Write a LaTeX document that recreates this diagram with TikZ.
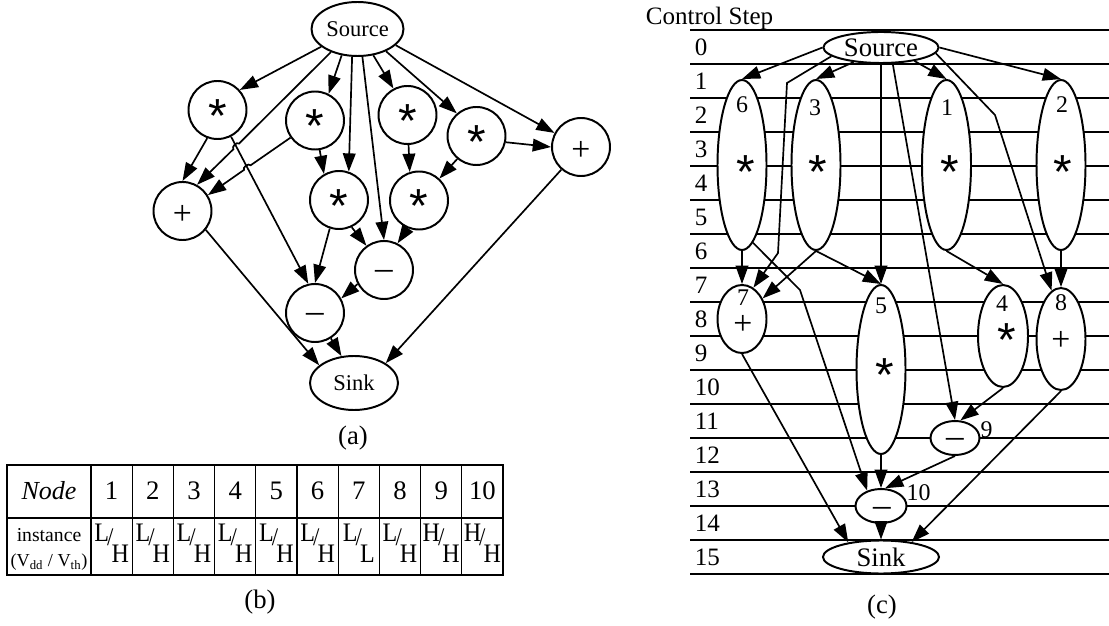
\documentclass[tikz,border=0pt]{standalone}
\usepackage{fontspec}
\setmainfont{Liberation Serif}
\newfontfamily\symfont{Liberation Sans}
\usetikzlibrary{arrows.meta,shapes.geometric}

% supply / threshold voltage pair, set as a slanted fraction
\newcommand{\vdvt}[2]{\scalebox{0.9}[1]{\raisebox{15pt}{#1}\kern-1.5pt\raisebox{12pt}{\fontsize{18}{18}\selectfont/}\kern-1.5pt#2}}

\begin{document}
\begin{tikzpicture}[
        x=0.25mm, y=-0.25mm,
        >={Triangle[length=13pt,width=9pt]},
        line width=1.2pt,
        every node/.style={font=\fontsize{19}{21}\selectfont},
        op/.style={circle, draw, line width=1.4pt, fill=white, minimum size=14.5mm, inner sep=0pt},
        term/.style={ellipse, draw, line width=1.4pt, fill=white, inner sep=0pt},
        slot/.style={ellipse, draw, line width=1.4pt, fill=white, inner sep=0pt, minimum width=12.25mm},
        mul/.style={font=\symfont\fontsize{34}{34}\selectfont, yshift=-7.1pt},
        add/.style={font=\fontsize{24}{24}\selectfont},
        sub/.style={font=\fontsize{25}{25}\selectfont, yshift=-2pt},
        num/.style={font=\fontsize{17}{19}\selectfont},
        grid/.style={line width=1.3pt}
    ]
    \useasboundingbox (0,0) rectangle (1109,626);

    % ---------- (a) data flow graph ----------
    \node[term, minimum width=23mm, minimum height=13.5mm, font=\fontsize{16}{18}\selectfont] (src) at (357.5,29) {Source};
    \node[term, minimum width=22mm, minimum height=13.5mm, font=\fontsize{16}{18}\selectfont] (snk) at (354,383) {Sink};
    \node[op] (m1) at (217.5,110) {};
    \node[op] (m2) at (315,120.5) {};
    \node[op] (m3) at (407.5,115) {};
    \node[op] (m4) at (476.5,136) {};
    \node[op] (m5) at (339,200) {};
    \node[op] (m6) at (419,200.5) {};
    \node[op] (ad1) at (182.5,211) {};
    \node[op] (ad2) at (581,147) {};
    \node[op] (sb1) at (384,270) {};
    \node[op] (sb2) at (315,313) {};

    % operator symbols
    \foreach \n in {m1,m2,m3,m4,m5,m6}
        \node[mul, yshift=2.8pt] (\n s) at (\n) {*};
    \foreach \n in {ad1,ad2}
        \node[add, yshift=-2.8pt] (\n s) at (\n) {+};
    \foreach \n in {sb1,sb2}
        \node[sub, yshift=-1.5pt] (\n s) at (\n) {–};

    % line jumps over the m1 -> sb2 edge
    \coordinate (j1) at (239.0,143.6);
    \coordinate (j2) at (233.4,149.2);
    \coordinate (j3) at (250.6,165.3);
    \coordinate (j4) at (244.0,169.9);

    \draw[->] (src.206) -- (m1.42);
    \draw[->] (src.221) -- (j1) to[bend right=90] (j2) -- (ad1.61);
    \draw[->] (src.239) -- (m2.63);
    \draw[->] (src.259) -- (m5.71);
    \draw[->] (src.280) -- (sb1.north);
    \draw[->] (src.301) -- (m3.118);
    \draw[->] (src.322) -- (m4.131);
    \draw[->] (src.337) -- (ad2.152);
    \draw[->] (m1.250) -- (ad1.north);
    \draw[->] (m1.297) -- (sb2.103);
    \draw[->] (m2.215) -- (j3) to[bend right=90] (j4) -- (ad1.32);
    \draw[->] (m2.279) -- (m5.120);
    \draw[->] (m3.272) -- (m6.108);
    \draw[->] (m4.230) -- (m6.47);
    \draw[->] (m4.348) -- (ad2.180);
    \draw[->] (m5.252) -- (sb2.north);
    \draw[->] (m5.295) -- (sb1.126);
    \draw[->] (m6.248) -- (sb1.63);
    \draw[->] (sb1.208) -- (sb2.29);
    \draw[->] (ad1.321) -- (snk.153);
    \draw[->] (ad2.229) -- (snk.32);
    \draw[->] (sb2.302) -- (snk.115);

    \node (capa) at (353,438) {(a)};

    % ---------- (b) voltage table ----------
    \draw[line width=1.6pt] (7,465) rectangle (503,575);
    \draw[line width=0.8pt] (7,518) -- (503,518);
    \foreach \k in {0,...,9}
        \draw[line width=0.8pt] ({91+41.2*\k},465) -- ({91+41.2*\k},575);

    \node[font=\fontsize{18.5}{20}\selectfont\itshape] (hdr) at (49,491) {Node};
    \node[font=\fontsize{14}{16}\selectfont] (inst) at (49,535) {instance};
    \node[font=\fontsize{13}{15}\selectfont] (volt) at (49,562) {(V\textsubscript{dd} / V\textsubscript{th})};
    \foreach \i in {1,...,10}
        \node (hd\i) at ({70.4+41.2*\i},491) {\i};
    \foreach \a/\b [count=\i] in {L/H,L/H,L/H,L/H,L/H,L/H,L/L,L/H,H/H,H/H}
        \node (vt\i) at ({70.4+41.2*\i},543) {\vdvt{\a}{\b}};

    \node (capb) at (260,602) {(b)};

    % ---------- (c) scheduled graph ----------
    \foreach \k in {0,...,16}
        \draw[grid] (690,{30+34*\k}) -- (1109,{30+34*\k});
    \foreach \k in {0,...,15}
        \node[num, font=\fontsize{17.8}{19}\selectfont, anchor=west, inner sep=0pt] (cs\k) at (694,{47+34*\k}) {\k};
    \node[font=\fontsize{17.8}{19}\selectfont, anchor=base east, inner sep=0pt] (cstep) at (774,25) {Control Step};

    \node[term, minimum width=28.75mm, minimum height=7.75mm] (src2) at (881,47.5) {Source};
    \node[slot, minimum height=42.5mm] (n6) at (742,165) {};
    \node[slot, minimum height=42.5mm] (n3) at (816,165) {};
    \node[slot, minimum height=42.5mm] (n1) at (946.5,165) {};
    \node[slot, minimum height=42.5mm] (n2) at (1061,165) {};
    \node[slot, minimum height=17mm] (n7) at (742,319) {};
    \node[slot, minimum height=42.25mm] (n5) at (881,369.5) {};
    \node[slot, minimum width=12.5mm, minimum height=25.5mm] (n4) at (1003,336) {};
    \node[slot, minimum height=25.5mm] (n8) at (1061,339) {};
    \node[slot, minimum height=8.5mm] (n9) at (955,438) {};
    \node[slot, minimum width=12.75mm, minimum height=8.5mm] (n10) at (881,506) {};
    \node[term, minimum width=29mm, minimum height=8.25mm] (snk2) at (881,557) {Sink};

    % node numbers and operators
    \node[num] (n6n) at (742,104.5) {6};
    \node[num] (n3n) at (815,107.5) {3};
    \node[num] (n1n) at (947,107.5) {1};
    \node[num] (n2n) at (1062,105) {2};
    \node[num] (n7n) at (743,298) {7};
    \node[num] (n5n) at (881,306) {5};
    \node[num] (n4n) at (1002,304) {4};
    \node[num] (n8n) at (1061,303) {8};
    \node[num] (n9n) at (986.5,430) {9};
    \node[num] (n10n) at (918.5,493) {10};
    \node[mul] (n6s) at (746,162) {*};
    \node[mul] (n3s) at (818,162) {*};
    \node[mul] (n1s) at (950,162) {*};
    \node[mul] (n2s) at (1063,162) {*};
    \node[mul] (n5s) at (885,365) {*};
    \node[mul] (n4s) at (1007,330) {*};
    \node[add] (n7s) at (743,325) {+};
    \node[add] (n8s) at (1061,341) {+};
    \node[sub] (n9s) at (955,440) {–};
    \node[sub] (n10s) at (882,509) {–};

    \coordinate (b1) at (787,83);
    \coordinate (b2) at (778,253);
    \coordinate (b3) at (995,115);
    \coordinate (b4) at (800,290);

    \draw[->] (src2.west) -- (n6.north);
    \draw[->] (src2.208) -- (n3.north);
    \draw[->] (src2.190) -- (b1) -- (b2) -- (n7.70);
    \draw[->] (src2.south) -- (n5.north);
    \draw[->] (src2.306) -- (n9.north);
    \draw[->] (src2.338) -- (n1.north);
    \draw[->] (src2.354) -- (b3) -- (n8.101);
    \draw[->] (src2.east) -- (n2.north);
    \draw[->] (n6.south) -- (n7.north);
    \draw[->] (n6.278) -- (b4) -- (n10.132);
    \draw[->] (n3.south) -- (n7.45);
    \draw[->] (n3.south) -- (n5.north);
    \draw[->] (n1.south) -- (n4.north);
    \draw[->] (n2.south) -- (n8.north);
    \draw[->] (n7.south) -- (snk2.156);
    \draw[->] (n5.south) -- (n10.north);
    \draw[->] (n4.south) -- (n9.73);
    \draw[->] (n8.south) -- (snk2.26);
    \draw[->] (n9.south) -- (n10.77);
    \draw[->] (n10.south) -- (snk2.north);

    \node (capc) at (882,607) {(c)};
\end{tikzpicture}
\end{document}
